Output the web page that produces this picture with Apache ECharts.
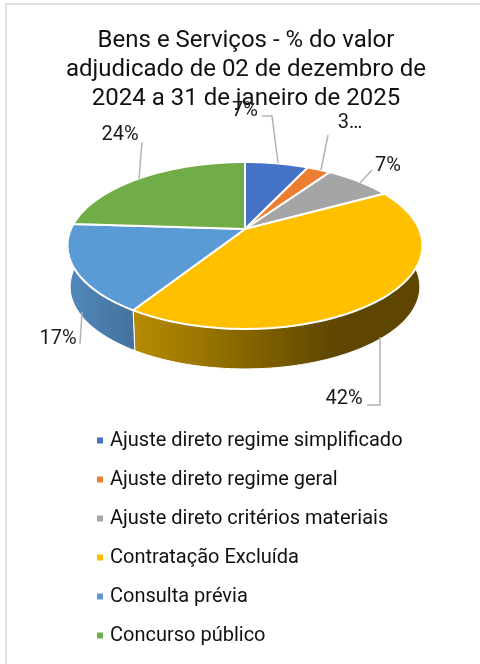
<!DOCTYPE html>
<html>
<head>
<meta charset="utf-8">
<script src="https://cdn.jsdelivr.net/npm/echarts@6/dist/echarts.min.js"></script>
<style>
html, body { margin: 0; padding: 0; background: #fff; }
#main { width: 480px; height: 664px; }
</style>
</head>
<body>
<div id="main"></div>
<script>
// dados
var categories = ['Ajuste direto regime simplificado', 'Ajuste direto regime geral', 'Ajuste direto critérios materiais', 'Contratação Excluída', 'Consulta prévia', 'Concurso público'];
var values = [7, 2.6, 7.4, 42, 17, 24];
var labels = ['7%', '3…', '7%', '42%', '17%', '24%'];
var colors = ['#4472c4', '#ed7d31', '#a5a5a5', '#ffc000', '#5b9bd5', '#70ad47'];

// perspectiva da tarte
var cx = 245, cy = 229, rx = 174, ry = 80.2, persp = 0.1976;
var depth = 41.5, shrink = 0.985;

// posicao dos rotulos e linhas de chamada
var labelPos = [[245, 111], [350, 123], [388, 166], [344, 399], [58, 339], [120, 135]];
var leaders = [
  [[262, 116], [272, 116], [278, 163]],
  [[328, 135], [321, 170]],
  [[372, 170], [360, 183]],
  [[380, 337], [380, 405], [367, 405]],
  [[82, 312], [80, 344]],
  [[142, 142], [139, 179]]
];
// gradiente da parede lateral, so as fatias da frente
var wallStops = {
  3: ['#b88c00', '#5e4600'],
  4: ['#5289bd', '#44719b']
};

var total = values.reduce(function (a, b) { return a + b; }, 0);

function project(deg, lower) {
  var t = deg * Math.PI / 180;
  var d = 1 + persp * Math.cos(t);
  var x = rx * Math.sin(t) / d;
  var y = -ry * Math.cos(t) / d;
  if (lower) return [cx + x * shrink, cy + y * shrink + depth];
  return [cx + x, cy + y];
}

function arcPoints(a0, a1, lower) {
  var pts = [];
  var n = Math.max(2, Math.ceil(Math.abs(a1 - a0) / 1.5));
  for (var i = 0; i <= n; i++) pts.push(project(a0 + (a1 - a0) * i / n, lower));
  return pts;
}

function renderSlice(idx) {
  return function (params, api) {
    var start = 0;
    for (var i = 0; i < idx; i++) start += values[i];
    var a0 = start / total * 360;
    var a1 = (start + api.value(0)) / total * 360;
    var children = [];
    if (wallStops[idx]) {
      var top = arcPoints(a0, a1, false);
      var bottom = arcPoints(a1, a0, true);
      children.push({
        type: 'polygon',
        shape: { points: top.concat(bottom) },
        style: {
          fill: new echarts.graphic.LinearGradient(0, 0, 1, 0, [
            { offset: 0, color: wallStops[idx][0] },
            { offset: idx === 3 ? 0.7 : 1, color: wallStops[idx][1] },
            { offset: 1, color: wallStops[idx][1] }
          ]),
          stroke: '#fff',
          lineWidth: 1
        }
      });
    }
    children.push({
      type: 'polygon',
      shape: { points: [[cx, cy]].concat(arcPoints(a0, a1, false)) },
      style: { fill: colors[idx], stroke: '#fff', lineWidth: 2, lineJoin: 'round' }
    });
    return { type: 'group', children: children };
  };
}

var series = categories.map(function (name, i) {
  return {
    name: name,
    type: 'custom',
    coordinateSystem: 'none',
    silent: true,
    animation: false,
    itemStyle: { color: colors[i] },
    data: [[values[i]]],
    renderItem: renderSlice(i)
  };
});

var graphics = [];
labels.forEach(function (txt, i) {
  graphics.push({
    type: 'polyline',
    silent: true,
    shape: { points: leaders[i] },
    style: { stroke: '#b4b4b4', lineWidth: 1.5, fill: null },
    z: 10
  });
  graphics.push({
    type: 'text',
    silent: true,
    x: labelPos[i][0],
    y: labelPos[i][1],
    style: {
      text: txt,
      fill: '#1a1a1a',
      font: '20px Roboto',
      textAlign: 'center',
      textVerticalAlign: 'middle'
    },
    z: 10
  });
});
// moldura cinza, margem esquerda e de cima
graphics.push({
  type: 'rect',
  silent: true,
  shape: { x: 5, y: 3, width: 2, height: 661 },
  style: { fill: '#e0e0e0' }
});
graphics.push({
  type: 'rect',
  silent: true,
  shape: { x: 5, y: 3, width: 475, height: 2 },
  style: { fill: '#e0e0e0' }
});

var myChart = echarts.init(document.getElementById('main'), null, { renderer: 'canvas' });
myChart.setOption({
  backgroundColor: '#fff',
  animation: false,
  title: {
    text: 'Bens e Serviços - % do valor\nadjudicado de 02 de dezembro de\n2024 a 31 de janeiro de 2025',
    left: 241,
    top: 21,
    textAlign: 'center',
    textStyle: {
      fontFamily: 'Roboto',
      fontSize: 24,
      fontWeight: 'normal',
      color: '#111',
      lineHeight: 29
    }
  },
  legend: {
    orient: 'vertical',
    left: 97,
    top: 430,
    padding: 0,
    itemGap: 18,
    itemWidth: 6,
    itemHeight: 6,
    icon: 'rect',
    data: categories,
    selectedMode: false,
    textStyle: { fontFamily: 'Roboto', fontSize: 20, color: '#111', lineHeight: 21, padding: [0, 0, 0, 2] }
  },
  graphic: graphics,
  series: series
});
</script>
</body>
</html>
